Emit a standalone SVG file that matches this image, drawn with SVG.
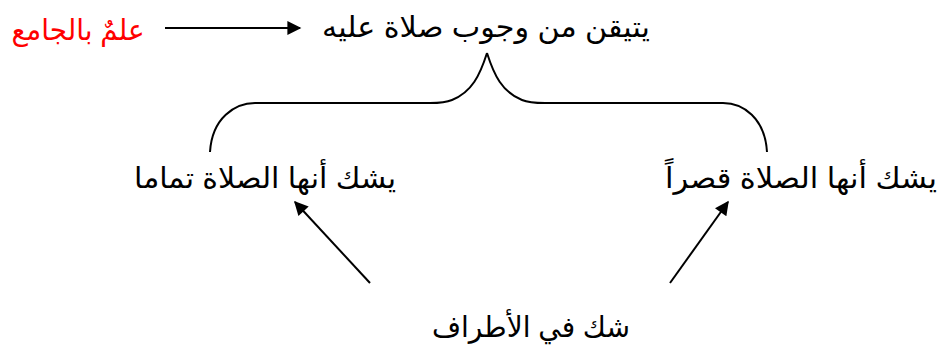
<svg xmlns="http://www.w3.org/2000/svg" width="940" height="354" viewBox="0 0 940 354">
<style>
text{font-family:"Liberation Sans","DejaVu Sans","Noto Sans",sans-serif;font-size:29px;fill:#000;text-anchor:middle;direction:rtl}
.red{fill:#ff0000}
.c{fill:none;stroke:#000;stroke-width:2}
</style>
<defs>
<marker id="ah2" viewBox="0 0 10 10" refX="9" refY="5" markerWidth="16" markerHeight="14" markerUnits="userSpaceOnUse" orient="auto">
<path d="M0,0 L10,5 L0,10 z" fill="#000"/>
</marker>
</defs>
<g id="connectors">
<line class="c" x1="165" y1="28" x2="300" y2="28" marker-end="url(#ah2)"/>
<path class="c" d="M487,53 C480,75 472,92 452,100 Q445,103 430,103 L255,103 C235,103 212,118 210,152"/>
<path class="c" d="M487,53 C494,75 502,92 522,100 Q529,103 545,103 L723,103 C743,103 765,118 767,152"/>
<line class="c" x1="370" y1="283" x2="295" y2="202" marker-end="url(#ah2)"/>
<line class="c" x1="670" y1="283" x2="728" y2="202" marker-end="url(#ah2)"/>
</g>
<g id="n-jami"><text class="red" x="78" y="40" textLength="133" lengthAdjust="spacingAndGlyphs">علمٌ بالجامع</text></g>
<g id="n-top"><text x="486" y="37" textLength="328" lengthAdjust="spacingAndGlyphs">يتيقن من وجوب صلاة عليه</text></g>
<g id="n-left"><text x="265" y="188" textLength="262" lengthAdjust="spacingAndGlyphs">يشك أنها الصلاة تماما</text></g>
<g id="n-right"><text x="801" y="188" textLength="272" lengthAdjust="spacingAndGlyphs">يشك أنها الصلاة قصراً</text></g>
<g id="n-bottom"><text x="531" y="337" textLength="198" lengthAdjust="spacingAndGlyphs">شك في الأطراف</text></g>
</svg>
